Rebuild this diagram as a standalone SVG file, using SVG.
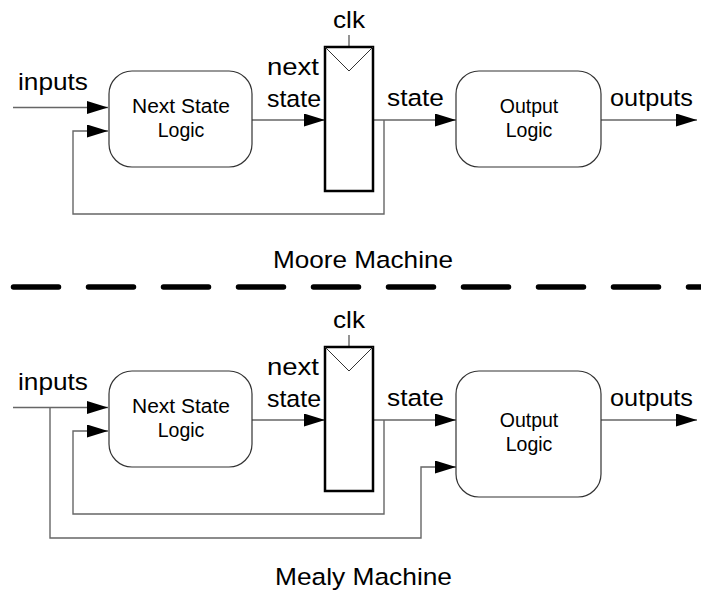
<svg xmlns="http://www.w3.org/2000/svg" width="701" height="598" viewBox="0 0 701 598">
<style>
text{font-family:"Liberation Sans",Arial,sans-serif;fill:#000}
.lbl{font-size:24.5px}
.in{font-size:19.5px;text-anchor:middle}
.ttl{font-size:24.5px;text-anchor:middle}
.box{fill:#fff;stroke:#333;stroke-width:1.2}
.ff{fill:#fff;stroke:#000;stroke-width:2.5}
.clkt{fill:none;stroke:#333;stroke-width:1}
.w{fill:none;stroke:#666;stroke-width:1.4}
.wa{fill:none;stroke:#666;stroke-width:1.4;marker-end:url(#ah)}
.dash{fill:none;stroke:#000;stroke-width:5.5;stroke-linecap:round;stroke-dasharray:45 30}
</style>
<defs>
<marker id="ah" markerUnits="userSpaceOnUse" markerWidth="21" markerHeight="13" refX="21" refY="6.5" orient="auto">
<path d="M0,0L21,6.5L0,13z" fill="#000"/>
</marker>
</defs>

<g id="connectors">
<path class="wa" d="M13,107.5H108"/>
<path class="wa" d="M252,120H325"/>
<path class="wa" d="M373,120H456"/>
<path class="wa" d="M384,120V214H73V131H108"/>
<path class="wa" d="M601,120H697"/>
<path class="w" d="M349,35V47"/>
<path class="wa" d="M13,407.5H108"/>
<path class="wa" d="M252,420H325"/>
<path class="wa" d="M373,420H456"/>
<path class="wa" d="M384,420V514H73V431H108"/>
<path class="wa" d="M601,420H697"/>
<path class="w" d="M349,335V347"/>
<path class="wa" d="M50,407.5V538H421V467H456"/>
</g>

<g id="moore-nsl">
<rect class="box" x="109" y="71" width="143" height="96" rx="23"/>
<text class="in" x="181" y="113" textLength="98" lengthAdjust="spacingAndGlyphs">Next State</text>
<text class="in" x="181" y="137">Logic</text>
</g>
<g id="moore-ff">
<rect class="ff" x="325" y="47" width="48" height="144"/>
<polyline class="clkt" points="325,47 349,71 373,47"/>
</g>
<g id="moore-ol">
<rect class="box" x="456" y="71" width="145" height="96" rx="23"/>
<text class="in" x="529" y="113">Output</text>
<text class="in" x="529" y="137">Logic</text>
</g>
<g id="moore-labels">
<text class="lbl" x="18" y="90" textLength="70" lengthAdjust="spacingAndGlyphs">inputs</text>
<text class="lbl" x="267" y="75" textLength="52" lengthAdjust="spacingAndGlyphs">next</text>
<text class="lbl" x="267" y="107" textLength="54" lengthAdjust="spacingAndGlyphs">state</text>
<text class="lbl" x="333" y="28" textLength="32" lengthAdjust="spacingAndGlyphs">clk</text>
<text class="lbl" x="387" y="106" textLength="57" lengthAdjust="spacingAndGlyphs">state</text>
<text class="lbl" x="610" y="106" textLength="83" lengthAdjust="spacingAndGlyphs">outputs</text>
<text class="ttl" x="363" y="268" textLength="180" lengthAdjust="spacingAndGlyphs">Moore Machine</text>
</g>

<path id="divider" class="dash" d="M13.5,287H701"/>

<g id="mealy-nsl">
<rect class="box" x="109" y="371" width="143" height="96" rx="23"/>
<text class="in" x="181" y="413" textLength="98" lengthAdjust="spacingAndGlyphs">Next State</text>
<text class="in" x="181" y="437">Logic</text>
</g>
<g id="mealy-ff">
<rect class="ff" x="325" y="347" width="48" height="144"/>
<polyline class="clkt" points="325,347 349,371 373,347"/>
</g>
<g id="mealy-ol">
<rect class="box" x="456" y="371" width="145" height="126" rx="23"/>
<text class="in" x="529" y="427">Output</text>
<text class="in" x="529" y="451">Logic</text>
</g>
<g id="mealy-labels">
<text class="lbl" x="18" y="390" textLength="70" lengthAdjust="spacingAndGlyphs">inputs</text>
<text class="lbl" x="267" y="375" textLength="52" lengthAdjust="spacingAndGlyphs">next</text>
<text class="lbl" x="267" y="407" textLength="54" lengthAdjust="spacingAndGlyphs">state</text>
<text class="lbl" x="333" y="328" textLength="32" lengthAdjust="spacingAndGlyphs">clk</text>
<text class="lbl" x="387" y="406" textLength="57" lengthAdjust="spacingAndGlyphs">state</text>
<text class="lbl" x="610" y="406" textLength="83" lengthAdjust="spacingAndGlyphs">outputs</text>
<text class="ttl" x="363.5" y="585" textLength="177" lengthAdjust="spacingAndGlyphs">Mealy Machine</text>
</g>
</svg>
